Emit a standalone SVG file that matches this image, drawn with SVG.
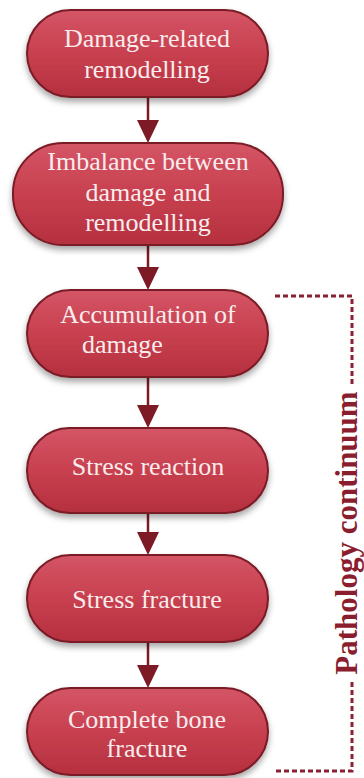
<svg xmlns="http://www.w3.org/2000/svg" width="364" height="778" viewBox="0 0 364 778">
<defs>
<linearGradient id="g" x1="0" y1="0" x2="0" y2="1">
<stop offset="0" stop-color="#d45566"/>
<stop offset="0.5" stop-color="#c8404f"/>
<stop offset="1" stop-color="#b5303f"/>
</linearGradient>
<filter id="sh" x="-10%" y="-10%" width="120%" height="130%">
<feDropShadow dx="0" dy="4" stdDeviation="3" flood-color="#000" flood-opacity="0.35"/>
</filter>
</defs>
<style>
.n{fill:url(#g);stroke:#7a1b27;stroke-width:2;filter:url(#sh)}
.t{font-family:'Liberation Serif','Times New Roman','DejaVu Serif',serif;font-size:26px;fill:#f9ecec;text-anchor:middle}
.c{stroke:#7d1a26;stroke-width:2.5;fill:none}
.h{fill:#7d1a26}
.d{stroke:#8a2233;stroke-width:3;stroke-dasharray:5 3;fill:none}
.p{font-family:'Liberation Serif','Times New Roman','DejaVu Serif',serif;font-size:31px;font-weight:bold;fill:#8a1e2e;text-anchor:middle}
</style>
<g id="connectors">
<line class="c" x1="148" y1="97" x2="148" y2="122"/>
<polygon class="h" points="137,120 159,120 148,143"/>
<line class="c" x1="148" y1="245" x2="148" y2="269"/>
<polygon class="h" points="137,267 159,267 148,290"/>
<line class="c" x1="148" y1="377" x2="148" y2="407"/>
<polygon class="h" points="137,405 159,405 148,428"/>
<line class="c" x1="148" y1="513" x2="148" y2="534"/>
<polygon class="h" points="137,532 159,532 148,555"/>
<line class="c" x1="148" y1="642" x2="148" y2="667"/>
<polygon class="h" points="137,665 159,665 148,688"/>
</g>
<g id="node1">
<rect class="n" x="27" y="10" width="241" height="87" rx="43.5"/>
<text class="t" x="147" y="47">Damage-related</text>
<text class="t" x="147" y="78">remodelling</text>
</g>
<g id="node2">
<rect class="n" x="13" y="143" width="270" height="102" rx="50"/>
<text class="t" x="148" y="170">Imbalance between</text>
<text class="t" x="148" y="201">damage and</text>
<text class="t" x="148" y="231">remodelling</text>
</g>
<g id="node3">
<rect class="n" x="27" y="290" width="241" height="87" rx="43.5"/>
<text class="t" x="148" y="323">Accumulation of</text>
<text class="t" x="82" y="353" style="text-anchor:start">damage</text>
</g>
<g id="node4">
<rect class="n" x="27" y="428" width="241" height="85" rx="42.5"/>
<text class="t" x="148" y="475">Stress reaction</text>
</g>
<g id="node5">
<rect class="n" x="27" y="555" width="241" height="87" rx="43.5"/>
<text class="t" x="147" y="608">Stress fracture</text>
</g>
<g id="node6">
<rect class="n" x="27" y="688" width="241" height="87" rx="43.5"/>
<text class="t" x="147" y="728">Complete bone</text>
<text class="t" x="147" y="757">fracture</text>
</g>
<g id="bracket">
<polyline class="d" points="275,296 352,296 352,385"/>
<polyline class="d" points="352,682 352,771 275,771"/>
<text class="p" transform="translate(357,533) rotate(-90)">Pathology continuum</text>
</g>
</svg>
